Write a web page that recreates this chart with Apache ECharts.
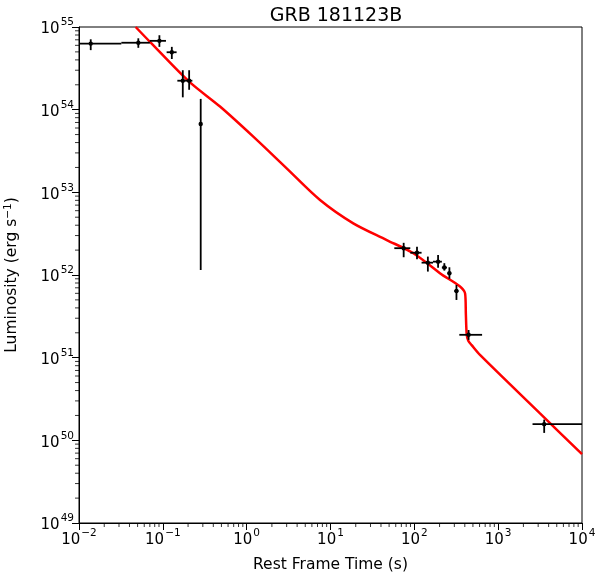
<!DOCTYPE html>
<html>
<head>
<meta charset="utf-8">
<script src="https://cdn.jsdelivr.net/npm/echarts@6/dist/echarts.min.js"></script>
<style>
    html, body { margin: 0; padding: 0; background: #fff; }
    #chart { width: 596px; height: 576px; }
</style>
</head>
<body>
<div id="chart"></div>
<script>
// observed points (rest frame time in s, luminosity in erg/s) with error ranges
const times   = [0.0138, 0.051, 0.091, 0.128, 0.173, 0.206, 0.283,
                 74.6, 107.6, 145, 192, 228, 262, 318, 444, 3540];
const tLow    = [0.0098, 0.032, 0.070, 0.111, 0.149, 0.184, 0.283,
                 57.7, 89.5, 122, 167, 213, 248, 300, 344, 2570];
const tHigh   = [0.032, 0.070, 0.109, 0.146, 0.184, 0.225, 0.283,
                 89.5, 122, 167, 213, 245, 276, 336, 643, 10000];
const lum     = [6.3e54, 6.45e54, 6.8e54, 4.95e54, 2.24e54, 2.24e54, 6.7e53,
                 2.11e52, 1.86e52, 1.41e52, 1.45e52, 1.23e52, 1.05e52, 6.4e51, 1.89e51, 1.57e50];
const lumLow  = [5.25e54, 5.6e54, 5.75e54, 4.1e54, 1.41e54, 1.74e54, 1.15e52,
                 1.64e52, 1.55e52, 1.1e52, 1.22e52, 1.13e52, 9.0e51, 4.99e51, 1.64e51, 1.23e50];
const lumHigh = [7.1e54, 7.3e54, 7.95e54, 5.75e54, 3.0e54, 3.0e54, 1.35e54,
                 2.45e52, 2.2e52, 1.67e52, 1.75e52, 1.39e52, 1.24e52, 7.57e51, 2.16e51, 1.78e50];

// model curve
const modelTime = [0.0474, 0.0703, 0.206, 0.481, 1.20, 3.0, 7.5, 18.7, 46.9, 97.3,
                   202, 403, 412, 422, 440, 483, 607, 3155, 10000];
const modelLum  = [1e55, 6.6e54, 2.18e54, 1.09e54, 4.71e53, 1.95e53, 8.08e52, 4.22e52, 2.65e52, 1.83e52,
                   1.05e52, 6.0e51, 3.3e51, 1.88e51, 1.6e51, 1.42e51, 1.08e51, 2.12e50, 6.8e49];

// axis decades and minor tick multipliers
const xExps = [-2, -1, 0, 1, 2, 3];
const yExps = [49, 50, 51, 52, 53, 54];
const minorMult = [2, 3, 4, 5, 6, 7, 8, 9];

const FONT = 'DejaVu Sans';

function supLabel(value) {
    let e = Math.round(Math.log10(value));
    let s = e < 0 ? '\u2212' + (-e) : String(e);
    return '{b|10}{s|' + s + '}';
}

const labelRich = {
    b: { fontSize: 15, fontFamily: FONT, color: '#000', lineHeight: 20, verticalAlign: 'bottom' },
    s: { fontSize: 10.5, fontFamily: FONT, color: '#000', lineHeight: 20, verticalAlign: 'top', padding: [0, 0, 0, 1] }
};

let xMinor = [];
xExps.forEach(e => minorMult.forEach(m => xMinor.push([m * Math.pow(10, e), 1e49])));
let yMinor = [];
yExps.forEach(e => minorMult.forEach(m => yMinor.push([0.01, m * Math.pow(10, e)])));

let errData = times.map((t, i) => [t, lum[i], tLow[i], tHigh[i], lumLow[i], lumHigh[i]]);

let chart = echarts.init(document.getElementById('chart'), null, { renderer: 'canvas' });

let option = {
    animation: false,
    backgroundColor: '#fff',
    title: {
        text: 'GRB 181123B',
        left: 331,
        top: 2,
        textAlign: 'center',
        textStyle: { fontFamily: FONT, fontSize: 19, fontWeight: 'normal', color: '#000' }
    },
    grid: {
        left: 79, right: 14, top: 27, bottom: 53,
        outerBoundsMode: 'none',
        containLabel: false,
        show: true,
        borderColor: '#000',
        borderWidth: 1,
        backgroundColor: 'transparent'
    },
    xAxis: {
        type: 'log',
        logBase: 10,
        min: 0.01,
        max: 10000,
        splitNumber: 6,
        name: 'Rest Frame Time (s)',
        nameLocation: 'middle',
        nameGap: 34,
        nameTextStyle: { fontFamily: FONT, fontSize: 15.5, color: '#000' },
        axisLine: { lineStyle: { color: '#000', width: 1 } },
        axisTick: { inside: false, length: 7, lineStyle: { color: '#000', width: 1 } },
        axisLabel: { formatter: supLabel, rich: labelRich, margin: 5 },
        splitLine: { show: false }
    },
    yAxis: {
        type: 'log',
        logBase: 10,
        min: 1e49,
        max: 1e55,
        splitNumber: 6,
        name: 'Luminosity (erg s{s|\u22121})',
        nameLocation: 'middle',
        nameGap: 58,
        nameTextStyle: {
            fontFamily: FONT, fontSize: 15.5, color: '#000',
            rich: { s: { fontSize: 10.5, fontFamily: FONT, color: '#000', verticalAlign: 'top', lineHeight: 18 } }
        },
        axisLine: { lineStyle: { color: '#000', width: 1 } },
        axisTick: { inside: false, length: 7, lineStyle: { color: '#000', width: 1 } },
        axisLabel: { formatter: supLabel, rich: labelRich, margin: 5 },
        splitLine: { show: false }
    },
    series: [
        {
            // model curve
            type: 'line',
            data: modelTime.map((t, i) => [t, modelLum[i]]),
            showSymbol: false,
            smooth: 0.3,
            lineStyle: { color: '#ff0000', width: 2.5 },
            clip: true,
            z: 2
        },
        {
            // data points with error bars
            type: 'custom',
            data: errData,
            clip: true,
            z: 3,
            encode: { x: [0, 2, 3], y: [1, 4, 5] },
            renderItem: (params, api) => {
                let c = api.coord([api.value(0), api.value(1)]);
                let l = api.coord([api.value(2), api.value(1)]);
                let r = api.coord([api.value(3), api.value(1)]);
                let lo = api.coord([api.value(0), api.value(4)]);
                let hi = api.coord([api.value(0), api.value(5)]);
                let style = { stroke: '#000', lineWidth: 1.8 };
                return {
                    type: 'group',
                    children: [
                        { type: 'line', shape: { x1: l[0], y1: l[1], x2: r[0], y2: r[1] }, style: style },
                        { type: 'line', shape: { x1: lo[0], y1: lo[1], x2: hi[0], y2: hi[1] }, style: style },
                        { type: 'circle', shape: { cx: c[0], cy: c[1], r: 2.2 }, style: { fill: '#000' } }
                    ]
                };
            }
        },
        {
            // minor ticks on x axis
            type: 'custom',
            data: xMinor,
            clip: false,
            silent: true,
            encode: { x: 0, y: 1 },
            renderItem: (params, api) => {
                let p = api.coord([api.value(0), api.value(1)]);
                return { type: 'line', shape: { x1: p[0], y1: p[1], x2: p[0], y2: p[1] + 4 },
                    style: { stroke: '#000', lineWidth: 0.8 } };
            }
        },
        {
            // minor ticks on y axis
            type: 'custom',
            data: yMinor,
            clip: false,
            silent: true,
            encode: { x: 0, y: 1 },
            renderItem: (params, api) => {
                let p = api.coord([api.value(0), api.value(1)]);
                return { type: 'line', shape: { x1: p[0] - 4, y1: p[1], x2: p[0], y2: p[1] },
                    style: { stroke: '#000', lineWidth: 0.8 } };
            }
        }
    ]
};

chart.setOption(option);
</script>
</body>
</html>
